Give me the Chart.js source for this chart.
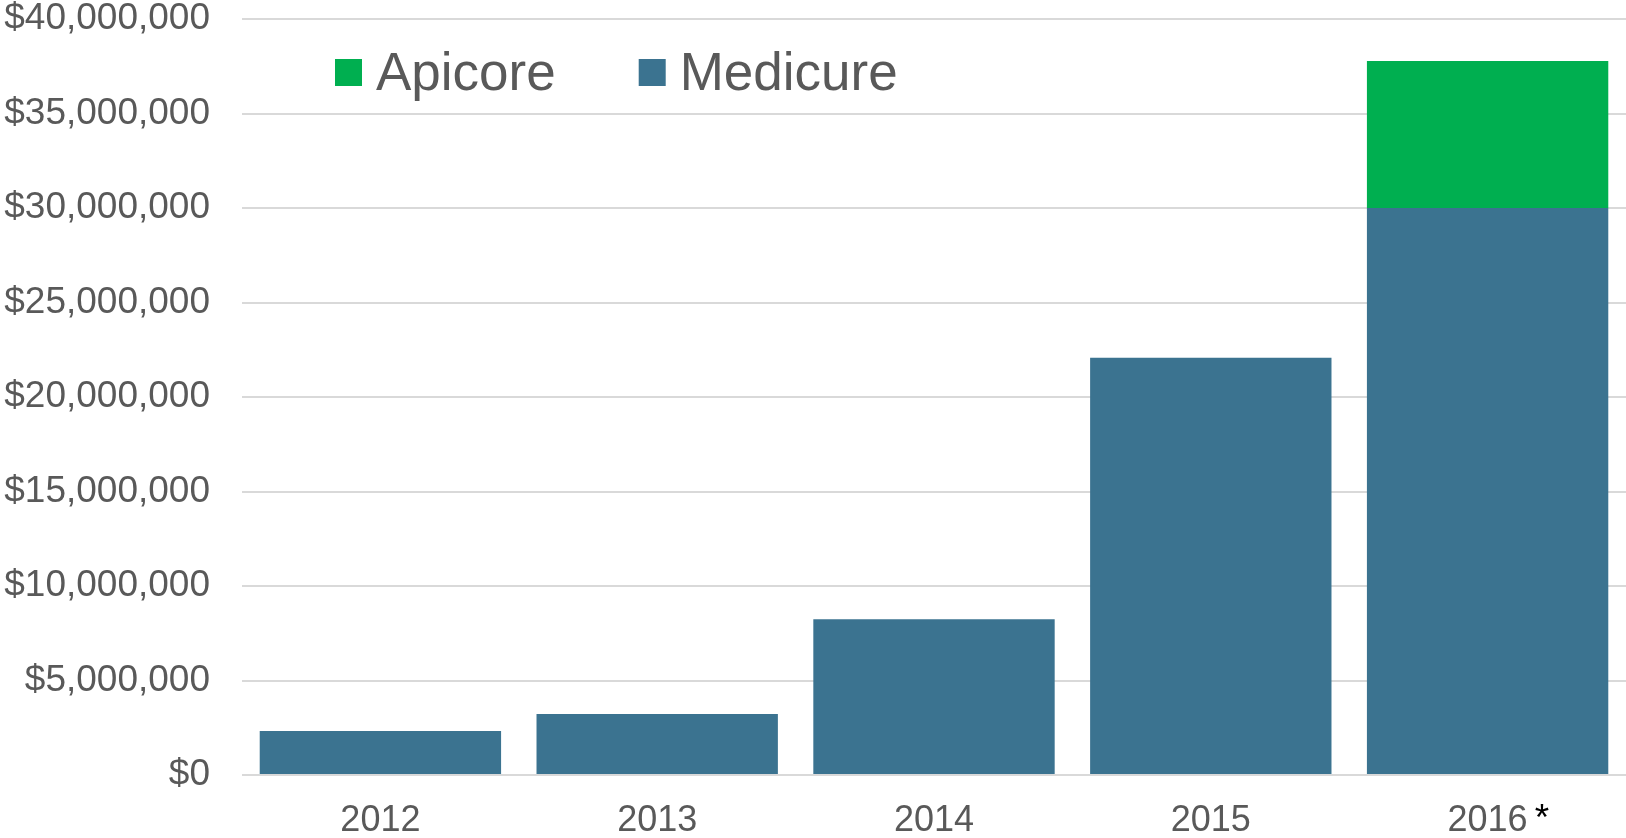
<!DOCTYPE html>
<html>
<head>
<meta charset="utf-8">
<script src="https://cdn.jsdelivr.net/npm/chart.js@4.4.1/dist/chart.umd.min.js"></script>
<style>
  html, body { margin: 0; padding: 0; background: #ffffff; }
  #wrap { width: 1626px; height: 838px; position: relative; }
</style>
</head>
<body>
<div id="wrap"><canvas id="c"></canvas></div>
<script>
// ---- data ----
const categories = ["2012", "2013", "2014", "2015", "2016"];
const categoryMarks = ["", "", "", "", "*"];
const medicure = [2330000, 3230000, 8240000, 22080000, 30000000];
const apicore = [null, null, null, null, 7780000];
const seriesNames = ["Medicure", "Apicore"];
const yMax = 40000000;
const yStep = 5000000;

const colMedicure = "#3B7390";
const colApicore = "#00AF50";
const textCol = "#595959";
const gridCol = "#D9D9D9";
const FONT = "'Liberation Sans', Arial, sans-serif";

function fmtDollar(v) {
  const s = Math.round(v).toString().replace(/\B(?=(\d{3})+(?!\d))/g, ",");
  return "$" + s;
}

const legendPlugin = {
  id: "customLegend",
  afterDraw(chart) {
    const ctx = chart.ctx;
    const ca = chart.chartArea;
    const items = chart.data.datasets.slice().reverse();
    let x = ca.left + 93;
    const boxTop = 59, box = 27, baseline = 90;
    ctx.save();
    ctx.font = "53px " + FONT;
    ctx.textBaseline = "alphabetic";
    ctx.textAlign = "left";
    items.forEach(ds => {
      ctx.fillStyle = ds.backgroundColor;
      ctx.fillRect(x, boxTop, box, box);
      ctx.fillStyle = textCol;
      const tx = x + box + 14;
      ctx.fillText(ds.label, tx, baseline);
      x = tx + ctx.measureText(ds.label).width + 83;
    });
    ctx.restore();
  }
};

const markPlugin = {
  id: "tickMarks",
  afterDraw(chart) {
    const ctx = chart.ctx;
    const xs = chart.scales.x;
    ctx.save();
    ctx.font = "37px " + FONT;
    categoryMarks.forEach((m, i) => {
      if (!m) return;
      const cx = xs.getPixelForValue(i);
      ctx.font = "36px " + FONT;
      const w = ctx.measureText(categories[i]).width;
      ctx.font = "37px " + FONT;
      ctx.fillStyle = "#000000";
      ctx.textAlign = "left";
      ctx.textBaseline = "middle";
      ctx.fillText(m, cx + w / 2 + 7, chart.chartArea.bottom + 45);
    });
    ctx.restore();
  }
};

new Chart(document.getElementById("c"), {
  type: "bar",
  data: {
    labels: categories,
    datasets: [
      { label: seriesNames[0], data: medicure, backgroundColor: colMedicure, borderWidth: 0,
        barPercentage: 0.872, categoryPercentage: 1.0 },
      { label: seriesNames[1], data: apicore, backgroundColor: colApicore, borderWidth: 0,
        barPercentage: 0.872, categoryPercentage: 1.0 }
    ]
  },
  options: {
    responsive: true,
    maintainAspectRatio: false,
    animation: false,
    layout: { padding: { left: 4, right: 0, top: 0, bottom: 0 } },
    plugins: {
      legend: { display: false },
      tooltip: { enabled: false }
    },
    scales: {
      x: {
        stacked: true,
        grid: { display: false, drawTicks: false },
        border: { display: false },
        ticks: { color: textCol, font: { family: FONT, size: 36 }, padding: 24 },
        afterFit: s => { s.height = 63; }
      },
      y: {
        stacked: true,
        min: 0,
        max: yMax,
        grid: { color: gridCol, lineWidth: 2, drawTicks: false },
        border: { display: false },
        ticks: {
          stepSize: yStep,
          color: textCol,
          font: { family: FONT, size: 37 },
          padding: 32,
          callback: v => fmtDollar(v)
        },
        afterFit: s => { s.width = 238; s.paddingTop = 19; s.paddingBottom = 19; }
      }
    }
  },
  plugins: [legendPlugin, markPlugin]
});
</script>
</body>
</html>
